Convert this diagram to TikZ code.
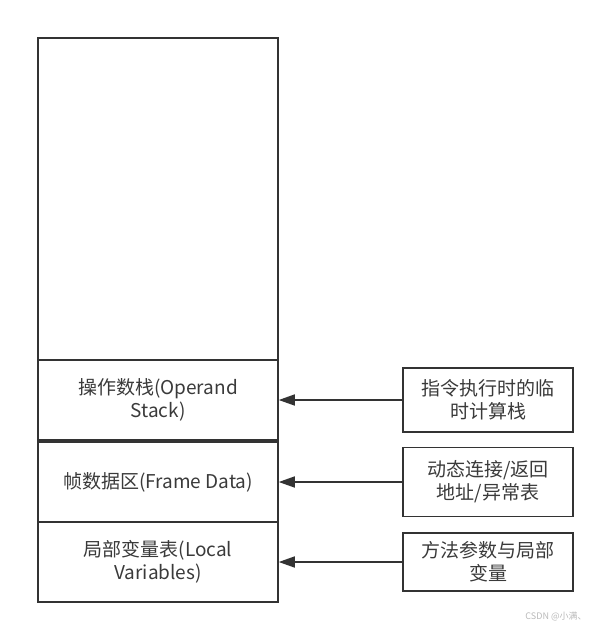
\documentclass[tikz,border=0pt]{standalone}
\usepackage{fontspec}
\setmainfont{Noto Sans CJK SC}
\usepackage{xcolor}
\usepackage{tikz}
\usetikzlibrary{
    arrows.meta,
    positioning
}
\definecolor{linegray}{HTML}{333333}
\definecolor{textgray}{HTML}{3A3A3A}

\begin{document}
\begin{tikzpicture}[
    x=1pt, y=-1pt,
    framebox/.style={
        rectangle,
        minimum width=240pt,
        align=center,
        draw=linegray,
        line width=1.5pt,
        text=textgray,
        font=\fontsize{19}{23}\selectfont
    },
    notebox/.style={
        rectangle,
        minimum width=170pt,
        align=center,
        draw=linegray,
        line width=1.5pt,
        text=textgray,
        font=\fontsize{19}{23}\selectfont
    },
    arrow/.style={-{Triangle[length=16pt, width=11pt]}, draw=linegray, line width=1.5pt}
]
\useasboundingbox (0,0) rectangle (605,630);

% Stack frame
\node[framebox, minimum height=322pt] (free) at (158, 199) {};
\node[framebox, minimum height=80pt] (opstack) at (158, 400) {操作数栈(Operand\\Stack)};
\node[framebox, minimum height=80pt] (framedata) at (158, 482) {帧数据区(Frame Data)};
\node[framebox, minimum height=80pt] (localvars) at (158, 562) {局部变量表(Local\\Variables)};

% Notes
\node[notebox, minimum height=64pt] (noteop) at (488, 400) {指令执行时的临\\时计算栈};
\node[notebox, minimum height=69pt] (notefd) at (488, 482) {动态连接/返回\\地址/异常表};
\node[notebox, minimum height=58pt] (notelv) at (488, 562) {方法参数与局部\\变量};

% Arrows
\draw[arrow] (noteop) -- (opstack);
\draw[arrow] (notefd) -- (framedata);
\draw[arrow] (notelv) -- (localvars);

% Watermark
\node[font=\fontsize{9}{11}\selectfont, text=gray!55] (mark) at (556, 616) {CSDN @小满、};

\end{tikzpicture}
\end{document}
